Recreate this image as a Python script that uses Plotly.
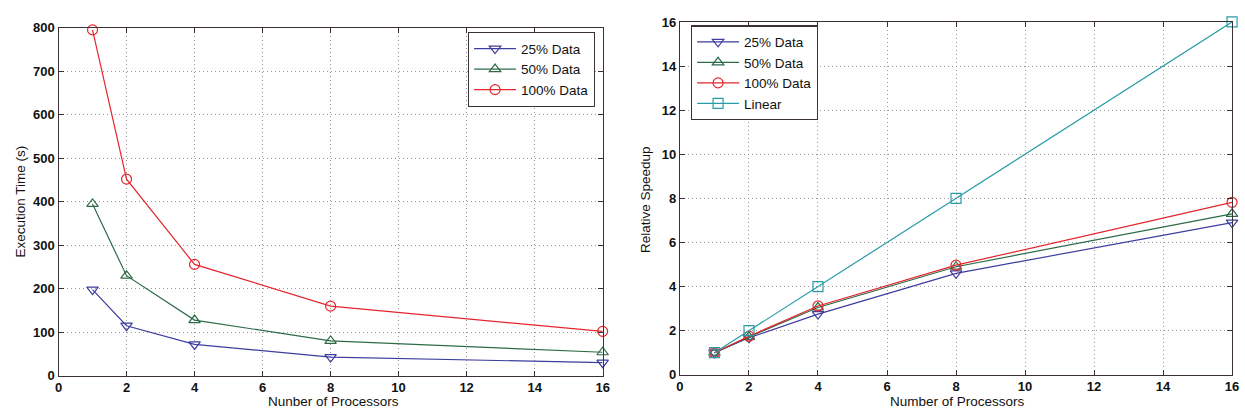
import plotly.graph_objects as go

W, H = 1245, 417

processors = [1, 2, 4, 8, 16]

# Left panel: execution time (s)
time_25 = [198, 115, 72, 43, 30]
time_50 = [395, 230, 128, 80, 54]
time_100 = [795, 452, 256, 160, 102]

# Right panel: relative speedup
speed_25 = [1.0, 1.68, 2.75, 4.6, 6.9]
speed_50 = [1.0, 1.72, 3.05, 4.9, 7.3]
speed_100 = [1.0, 1.75, 3.12, 4.97, 7.82]
speed_linear = [1, 2, 4, 8, 16]

x_ticks = [0, 2, 4, 6, 8, 10, 12, 14, 16]
time_ticks = [0, 100, 200, 300, 400, 500, 600, 700, 800]
speed_ticks = [0, 2, 4, 6, 8, 10, 12, 14, 16]

names = ["25% Data", "50% Data", "100% Data"]
names_r = ["25% Data", "50% Data", "100% Data", "Linear"]

BLUE = "#3d3d9e"
GREEN = "#2d6b48"
RED = "#e5252c"
CYAN = "#2a9ca8"
symbols = ["triangle-down-open", "triangle-up-open", "circle-open", "square-open"]
colors = [BLUE, GREEN, RED, CYAN]

FONT = "Liberation Sans, Arial, Helvetica, sans-serif"

fig = go.Figure()

for name, ys, sym, col in zip(names, [time_25, time_50, time_100], symbols, colors):
    fig.add_trace(go.Scatter(
        x=processors, y=ys, name=name, mode="lines+markers",
        line=dict(color=col, width=1.2),
        marker=dict(symbol=sym, size=10, color=col, line=dict(width=1.2, color=col)),
        cliponaxis=False, xaxis="x", yaxis="y", legend="legend",
    ))

for name, ys, sym, col in zip(names_r, [speed_25, speed_50, speed_100, speed_linear], symbols, colors):
    fig.add_trace(go.Scatter(
        x=processors, y=ys, name=name, mode="lines+markers",
        line=dict(color=col, width=1.2),
        marker=dict(symbol=sym, size=10, color=col, line=dict(width=1.2, color=col)),
        cliponaxis=False, xaxis="x2", yaxis="y2", legend="legend2",
    ))

def px_x(p):
    return p / W

def px_y(p):
    return 1 - p / H

axis_common = dict(
    showline=True, linecolor="#3a3036", linewidth=1.2, mirror="ticks",
    ticks="inside", ticklen=5, tickcolor="#3a3036", tickwidth=1.2,
    showgrid=True, gridcolor="#999999", griddash="1px,3px", gridwidth=1.2,
    zeroline=False,
    tickfont=dict(family=FONT, size=13, color="#111", weight=700),
)

legend_common = dict(
    xanchor="left", yanchor="top",
    bgcolor="white", bordercolor="#3a3036", borderwidth=1.2,
    font=dict(family=FONT, size=13.5, color="#111"),
    itemwidth=42, tracegroupgap=0,
)

fig.update_layout(
    width=W, height=H, autosize=False,
    margin=dict(l=0, r=0, t=0, b=0),
    paper_bgcolor="white", plot_bgcolor="white",
    font=dict(family=FONT, size=12, color="#111"),
    xaxis=dict(domain=[px_x(55), px_x(604)], range=[0, 16], tickvals=x_ticks,
               anchor="y", **axis_common),
    yaxis=dict(domain=[px_y(382.5), px_y(21.5)], range=[0, 800], tickvals=time_ticks,
               anchor="x", **axis_common),
    xaxis2=dict(domain=[px_x(682), px_x(1239)], range=[0, 16], tickvals=x_ticks,
                anchor="y2", **axis_common),
    yaxis2=dict(domain=[px_y(381.5), px_y(15.5)], range=[0, 16], tickvals=speed_ticks,
                anchor="x2", **axis_common),
    legend=dict(x=px_x(468), y=px_y(26), **legend_common),
    legend2=dict(x=px_x(693), y=px_y(19), **legend_common),
    showlegend=True,
)

ann_font = dict(family=FONT, size=13.5, color="#111")
fig.add_annotation(text="Execution Time (s)", x=px_x(17), y=px_y(202), xref="paper", yref="paper",
                   textangle=-90, showarrow=False, font=ann_font, xanchor="center", yanchor="middle")
fig.add_annotation(text="Relative Speedup", x=px_x(648), y=px_y(200), xref="paper", yref="paper",
                   textangle=-90, showarrow=False, font=ann_font, xanchor="center", yanchor="middle")
fig.add_annotation(text="Nunber of Processors", x=px_x(332), y=px_y(409), xref="paper", yref="paper",
                   showarrow=False, font=ann_font, xanchor="center", yanchor="middle")
fig.add_annotation(text="Number of Processors", x=px_x(962), y=px_y(409), xref="paper", yref="paper",
                   showarrow=False, font=ann_font, xanchor="center", yanchor="middle")

fig.write_html("out.html")
